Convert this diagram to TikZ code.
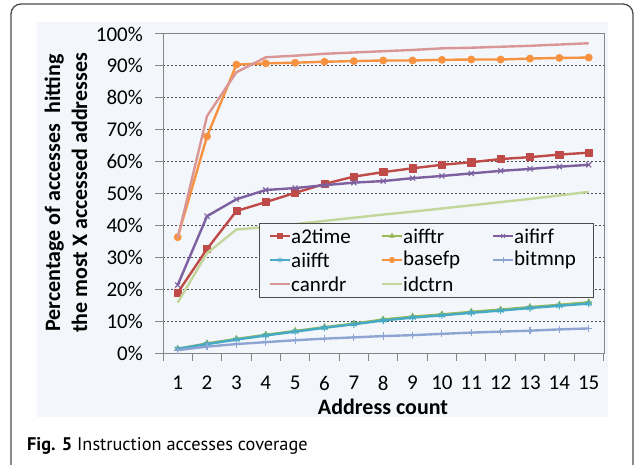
\documentclass[tikz,border=0pt]{standalone}
\usepackage{fontspec}
\setmainfont{Carlito}
\newfontfamily\capfont{PT Sans}
\usetikzlibrary{plotmarks}

\definecolor{cA2time}{HTML}{BE4B48}
\definecolor{cAifftr}{HTML}{98B954}
\definecolor{cAifirf}{HTML}{7D60A0}
\definecolor{cAiifft}{HTML}{46AAC5}
\definecolor{cBasefp}{HTML}{F69240}
\definecolor{cBitmnp}{HTML}{8EA5D3}
\definecolor{cCanrdr}{HTML}{D99694}
\definecolor{cIdctrn}{HTML}{C3D69B}
\definecolor{chartbg}{HTML}{F3F6FA}
\definecolor{axisgray}{HTML}{868686}

\tikzset{
  series/.style={line width=2.4pt, line join=round, mark size=3.6pt,
    mark options={solid, line width=0.6pt}},
  thinmark/.style={mark options={solid, line width=1.1pt}},
  grid line/.style={draw=black!70, dash pattern=on 2.2pt off 1.8pt, line width=0.9pt},
  axis line/.style={draw=axisgray, line width=1pt},
  outer frame/.style={draw=black!70, line width=1.3pt, rounded corners=10pt},
}

\begin{document}
\begin{tikzpicture}[x=1pt, y=-1pt, font=\fontsize{21}{24}\selectfont]
\useasboundingbox (0,0) rectangle (635,465);
\fill[white] (0,0) rectangle (635,465);
\draw[outer frame] (11,4) rectangle (633,500);
\fill[chartbg] (37,22) rectangle (608,417);

% grid and axes
\foreach \v in {10,20,...,90}
  \draw[grid line] (163,{353-3.19*\v}) -- (604,{353-3.19*\v});
\draw[axis line] (163,34) rectangle (604,353);
\foreach \v in {0,10,...,100} {
  \draw[axis line] (155,{353-3.19*\v}) -- (163,{353-3.19*\v});
  \node[anchor=east, inner sep=0pt] (ylab\v) at (143,{353-3.19*\v}) {\v\%};
}
\foreach \k in {0,...,15}
  \draw[axis line] ({163+29.36*\k},353) -- ({163+29.36*\k},361);
\foreach \i in {1,...,15}
  \node[inner sep=0pt] (xlab\i) at ({163+29.36*(\i-0.5)},383) {\i};

\node[font=\fontsize{22}{24}\selectfont\bfseries] (xtitle) at (383,407) {Address count};
\node[rotate=90, align=center, font=\fontsize{22}{27}\selectfont\bfseries] (ytitle) at (66,193)
  {Percentage of accesses\ \ hitting\\the most X accessed addresses};

% data
\begin{scope}[shift={(148.32,353)}, x=29.36pt, y=3.19pt]
\draw[series, cA2time] plot[mark=square*] coordinates {(1,18.9) (2,32.6) (3,44.5) (4,47.3) (5,50.2) (6,53.0) (7,55.3) (8,56.7) (9,57.9) (10,59.0) (11,59.8) (12,60.8) (13,61.4) (14,62.2) (15,62.8)};
\draw[series, cAifftr] plot[mark=triangle*] coordinates {(1,1.3) (2,3.0) (3,4.4) (4,5.7) (5,6.9) (6,8.1) (7,9.2) (8,10.5) (9,11.4) (10,12.1) (11,12.9) (12,13.6) (13,14.4) (14,15.1) (15,15.9)};
\draw[series, thinmark, cAifirf] plot[mark=x] coordinates {(1,21.3) (2,42.9) (3,48.2) (4,51.1) (5,51.7) (6,52.6) (7,53.4) (8,53.9) (9,54.8) (10,55.5) (11,56.3) (12,57.1) (13,57.7) (14,58.4) (15,59.0)};
\draw[series, thinmark, cAiifft] plot[mark=asterisk] coordinates {(1,1.3) (2,2.8) (3,4.2) (4,5.5) (5,6.7) (6,7.9) (7,9.0) (8,10.2) (9,11.1) (10,11.8) (11,12.6) (12,13.3) (13,14.1) (14,14.8) (15,15.5)};
\draw[series, cBasefp] plot[mark=*] coordinates {(1,36.3) (2,67.9) (3,90.4) (4,90.8) (5,91.0) (6,91.3) (7,91.5) (8,91.7) (9,91.7) (10,91.9) (11,92.0) (12,92.0) (13,92.3) (14,92.5) (15,92.6)};
\draw[series, thinmark, cBitmnp] plot[mark=+] coordinates {(1,0.9) (2,2.0) (3,2.8) (4,3.4) (5,4.0) (6,4.5) (7,4.9) (8,5.3) (9,5.6) (10,6.0) (11,6.4) (12,6.7) (13,7.0) (14,7.4) (15,7.7)};
\draw[series, cCanrdr] plot coordinates {(1,36.0) (2,74.3) (3,88.0) (4,92.7) (5,93.2) (6,93.8) (7,94.2) (8,94.6) (9,95.0) (10,95.5) (11,95.7) (12,96.0) (13,96.3) (14,96.7) (15,97.1)};
\draw[series, cIdctrn] plot coordinates {(1,15.8) (2,31.3) (3,38.7) (4,39.5) (5,40.4) (6,41.4) (7,42.4) (8,43.4) (9,44.3) (10,45.3) (11,46.3) (12,47.3) (13,48.3) (14,49.4) (15,50.5)};
\end{scope}

% legend
\draw[fill=chartbg, draw=black!70, line width=0.9pt] (259,223) rectangle (593,297);
\foreach \name/\col/\mk/\lx/\ly in {a2time/cA2time/square*/270/236, aifftr/cAifftr/triangle*/382/236,
    aifirf/cAifirf/x/493/236, aiifft/cAiifft/asterisk/270/260, basefp/cBasefp/*/382/260,
    bitmnp/cBitmnp/+/493/260, canrdr/cCanrdr/none/270/284, idctrn/cIdctrn/none/382/284} {
  \draw[series, \col, mark size=2.6pt, mark options={solid, line width=0.9pt}]
    plot[mark=\mk, mark indices={2}] coordinates {(\lx,\ly) (\lx+10,\ly) (\lx+20,\ly)};
  \node[anchor=west, inner sep=0pt] (leg\name) at (\lx+21,\ly) {\name};
}

\node[anchor=base west, inner sep=0pt, font=\capfont\fontsize{18.3}{21}\selectfont] (caption) at (27,450)
  {\textbf{Fig. 5} Instruction accesses coverage};
\end{tikzpicture}
\end{document}
